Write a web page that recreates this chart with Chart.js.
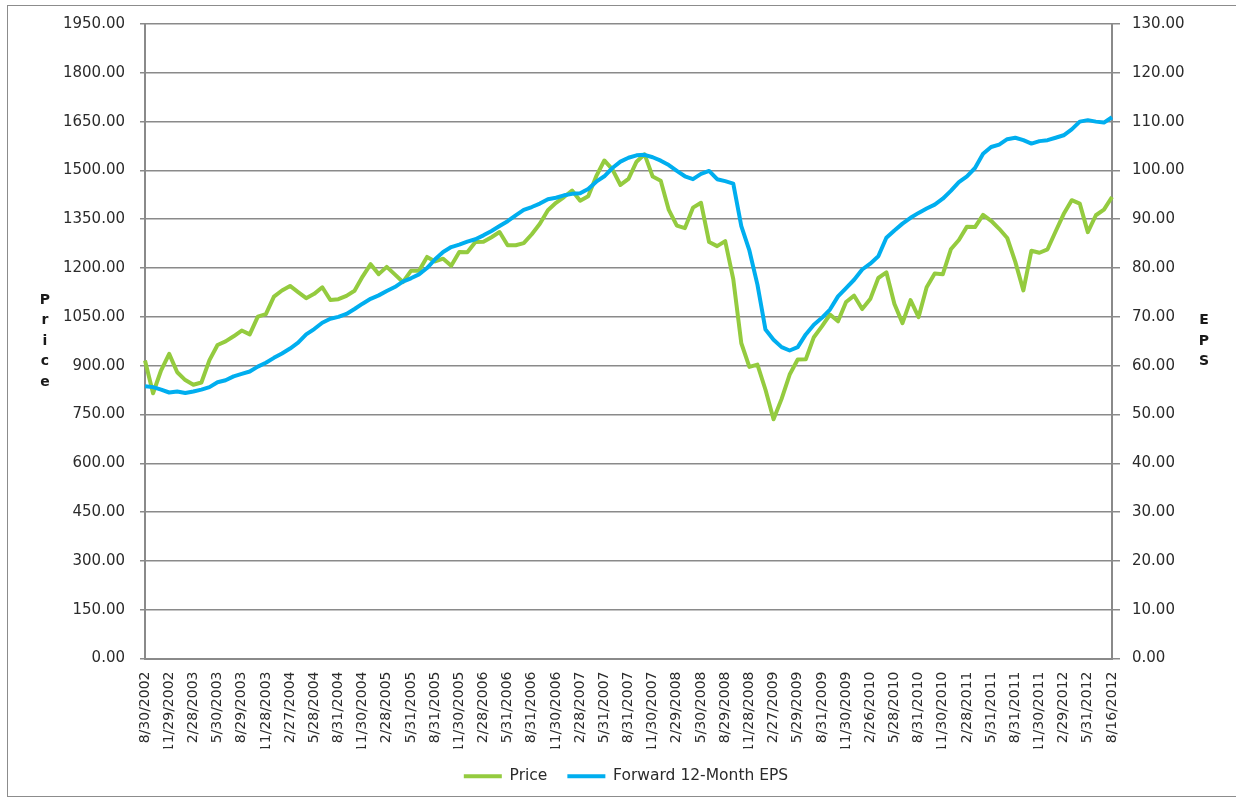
<!DOCTYPE html>
<html>
<head>
<meta charset="utf-8">
<script src="https://cdn.jsdelivr.net/npm/chart.js@4.4.1/dist/chart.umd.min.js"></script>
<style>
  html, body { margin: 0; padding: 0; background: #fff; overflow: hidden; }
  #wrap { position: relative; width: 1236px; height: 798px; }
  #frame { position: absolute; left: 7px; top: 5px; width: 1240px; height: 790px; border: 1px solid #8c8c8c; }
  canvas { position: absolute; left: 0; top: 0; }
</style>
</head>
<body>
<div id="wrap">
  <div id="frame"></div>
  <canvas id="epsChart" width="1236" height="798"></canvas>
</div>
<script>
// Quarterly tick labels shown on the category axis (every 3rd monthly point)
const tickLabels = [
    '8/30/2002', '11/29/2002', '2/28/2003', '5/30/2003', '8/29/2003', '11/28/2003',
    '2/27/2004', '5/28/2004', '8/31/2004', '11/30/2004', '2/28/2005', '5/31/2005',
    '8/31/2005', '11/30/2005', '2/28/2006', '5/31/2006', '8/31/2006', '11/30/2006',
    '2/28/2007', '5/31/2007', '8/31/2007', '11/30/2007', '2/29/2008', '5/30/2008',
    '8/29/2008', '11/28/2008', '2/27/2009', '5/29/2009', '8/31/2009', '11/30/2009',
    '2/26/2010', '5/28/2010', '8/31/2010', '11/30/2010', '2/28/2011', '5/31/2011',
    '8/31/2011', '11/30/2011', '2/29/2012', '5/31/2012', '8/16/2012'
];

// Monthly price, Aug 2002 - Aug 2012
const priceValues = [
    916.1, 815.3, 885.8, 936.3, 879.8,
    855.7, 841.2, 848.2, 916.9, 963.6, 974.5, 990.3, 1008.0, 996.0, 1050.7, 1058.2, 1111.9,
    1131.1, 1144.9, 1126.2, 1107.3, 1120.7, 1140.8, 1101.7, 1104.2, 1114.6, 1130.2, 1173.8, 1211.9,
    1181.3, 1203.6, 1180.6, 1156.9, 1191.5, 1191.3, 1234.2, 1220.3, 1228.8, 1207.0, 1249.5, 1248.3,
    1280.1, 1280.7, 1294.8, 1310.6, 1270.1, 1270.2, 1276.7, 1303.8, 1335.9, 1377.9, 1400.6, 1418.3,
    1438.2, 1406.8, 1420.9, 1482.4, 1530.6, 1503.4, 1455.3, 1474.0, 1526.8, 1549.4, 1481.1, 1468.4,
    1378.6, 1330.6, 1322.7, 1385.6, 1400.4, 1280.0, 1267.4, 1282.8, 1166.4, 968.8, 896.2, 903.3,
    825.9, 735.1, 797.9, 872.8, 919.1, 919.3, 987.5, 1020.6, 1057.1, 1036.2, 1095.6, 1115.1,
    1073.9, 1104.5, 1169.4, 1186.7, 1089.4, 1030.7, 1101.6, 1049.3, 1141.2, 1183.3, 1180.6, 1257.6,
    1286.1, 1327.2, 1325.8, 1363.6, 1345.2, 1320.6, 1292.3, 1218.9, 1131.4, 1253.3, 1247.0, 1257.6,
    1312.4, 1365.7, 1408.5, 1397.9, 1310.3, 1362.2, 1379.3, 1418.2
];

// Forward 12-month EPS, same months
const epsValues = [
    55.8, 55.6, 55.1, 54.5, 54.7,
    54.4, 54.7, 55.1, 55.6, 56.6, 57.0, 57.8, 58.3, 58.8, 59.8, 60.6, 61.6,
    62.5, 63.5, 64.7, 66.4, 67.5, 68.8, 69.6, 70.0, 70.6, 71.6, 72.7, 73.7,
    74.4, 75.3, 76.1, 77.2, 77.9, 78.7, 80.0, 81.8, 83.3, 84.3, 84.8, 85.4,
    85.9, 86.7, 87.6, 88.6, 89.6, 90.8, 91.9, 92.5, 93.2, 94.1, 94.4, 94.9,
    95.2, 95.3, 96.2, 97.7, 98.8, 100.5, 101.8, 102.6, 103.1, 103.2, 102.7, 102.0,
    101.1, 99.9, 98.8, 98.2, 99.3, 99.9, 98.2, 97.8, 97.3, 88.6, 83.6, 76.6,
    67.4, 65.3, 63.8, 63.1, 63.8, 66.4, 68.4, 69.8, 71.5, 74.2, 75.9, 77.6,
    79.7, 80.9, 82.4, 86.2, 87.7, 89.1, 90.3, 91.3, 92.2, 93.0, 94.2, 95.8,
    97.6, 98.8, 100.5, 103.4, 104.8, 105.3, 106.4, 106.7, 106.2, 105.5, 106.0, 106.2,
    106.7, 107.2, 108.4, 110.0, 110.3, 110.0, 109.8, 110.9
];

const leftTitle = 'Price';
const rightTitle = 'EPS';

const gridColor = '#8a8a8a';
const textColor = '#2b2b2b';
const fontFamily = '"DejaVu Sans", Verdana, sans-serif';

// one label per month, only every 3rd one is shown
const labels = priceValues.map((_, i) => i % 3 === 0 ? tickLabels[i / 3] : '');

// Stacked letter axis titles, like the Excel original
const stackedTitles = {
    id: 'stackedTitles',
    afterDraw(chart) {
        const { ctx, chartArea } = chart;
        const mid = (chartArea.top + chartArea.bottom) / 2;
        ctx.save();
        ctx.font = 'bold 14px ' + fontFamily;
        ctx.fillStyle = '#1a1a1a';
        ctx.textAlign = 'center';
        ctx.textBaseline = 'middle';
        const drawStack = (text, x) => {
            const letters = text.split('');
            const step = 20.5;
            const start = mid - (letters.length - 1) * step / 2;
            letters.forEach((ch, i) => ctx.fillText(ch, x, start + i * step));
        };
        drawStack(leftTitle, chartArea.left - 100);
        drawStack(rightTitle, chartArea.right + 92);
        ctx.restore();
    }
};

const ctx = document.getElementById('epsChart').getContext('2d');

new Chart(ctx, {
    type: 'line',
    data: {
        labels: labels,
        datasets: [{
            label: 'Price',
            data: priceValues,
            yAxisID: 'y',
            borderColor: '#94cb3f',
            backgroundColor: '#94cb3f',
            borderWidth: 4,
            pointRadius: 0,
            tension: 0,
            borderJoinStyle: 'round',
            order: 1
        }, {
            label: 'Forward 12-Month EPS',
            data: epsValues,
            yAxisID: 'y1',
            borderColor: '#00aeef',
            backgroundColor: '#00aeef',
            borderWidth: 4,
            pointRadius: 0,
            tension: 0,
            borderJoinStyle: 'round',
            order: 0
        }]
    },
    options: {
        responsive: false,
        animation: false,
        devicePixelRatio: 1,
        layout: {
            padding: { top: 23, bottom: 4, left: 16, right: 0 }
        },
        plugins: {
            tooltip: { enabled: false },
            legend: {
                position: 'bottom',
                labels: {
                    boxWidth: 38,
                    boxHeight: 4,
                    padding: 20,
                    color: textColor,
                    font: { family: fontFamily, size: 15.5 },
                    sort: (a, b) => a.datasetIndex - b.datasetIndex,
                    generateLabels: function (chart) {
                        return Chart.defaults.plugins.legend.labels.generateLabels(chart)
                            .map(item => Object.assign(item, { lineWidth: 0 }));
                    }
                }
            }
        },
        scales: {
            x: {
                type: 'category',
                offset: false,
                grid: { drawOnChartArea: false, drawTicks: false },
                border: { color: gridColor, width: 2 },
                ticks: {
                    autoSkip: false,
                    maxRotation: 90,
                    minRotation: 90,
                    padding: 13,
                    color: textColor,
                    font: { family: fontFamily, size: 14 }
                },
                afterFit: function (scale) { scale.height = 90; }
            },
            y: {
                position: 'left',
                min: 0,
                max: 1950,
                ticks: {
                    stepSize: 150,
                    padding: 15,
                    color: textColor,
                    font: { family: fontFamily, size: 15 },
                    callback: function (value) { return value.toFixed(2); }
                },
                grid: { color: gridColor, lineWidth: 1.5, tickLength: 5 },
                border: { color: gridColor, width: 2 },
                afterFit: function (scale) { scale.width = 129; }
            },
            y1: {
                position: 'right',
                min: 0,
                max: 130,
                ticks: {
                    stepSize: 10,
                    padding: 12,
                    color: textColor,
                    font: { family: fontFamily, size: 15 },
                    callback: function (value) { return value.toFixed(2); }
                },
                grid: { drawOnChartArea: false, color: gridColor, lineWidth: 1.5, tickLength: 8 },
                border: { color: gridColor, width: 2 },
                afterFit: function (scale) { scale.width = 124; }
            }
        }
    },
    plugins: [stackedTitles]
});
</script>
</body>
</html>
